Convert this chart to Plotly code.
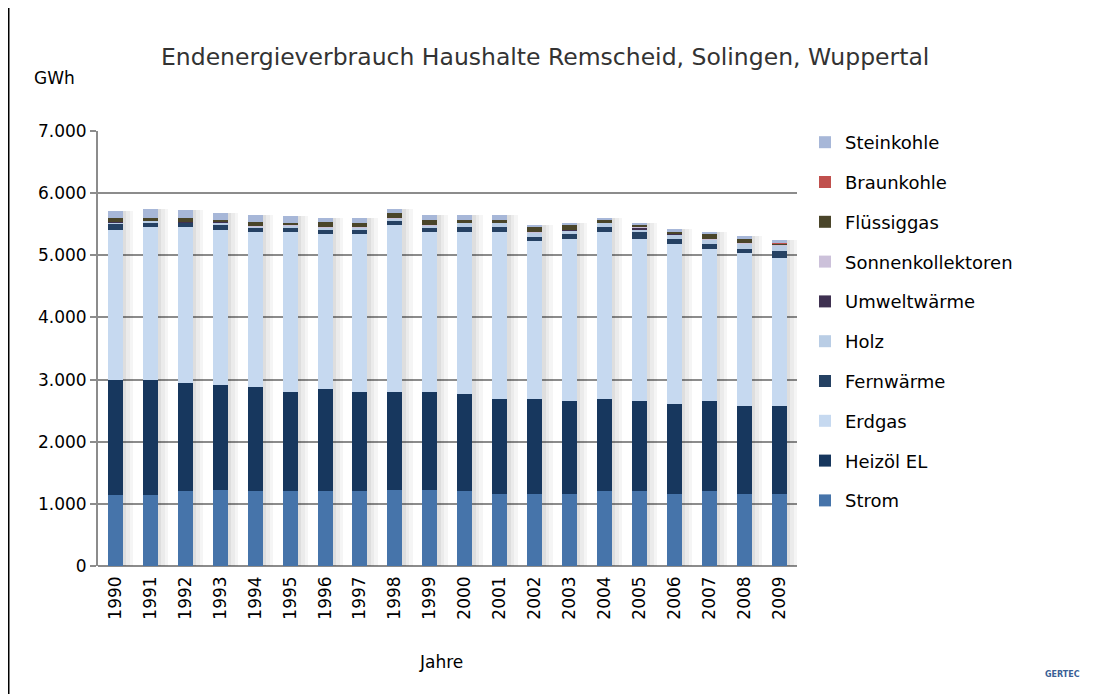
import plotly.graph_objects as go

years = [str(y) for y in range(1990, 2010)]

strom = [1150, 1150, 1200, 1230, 1200, 1200, 1200, 1200, 1230, 1230,
         1200, 1160, 1160, 1160, 1200, 1200, 1160, 1200, 1160, 1160]
heizoel = [1850, 1850, 1750, 1685, 1680, 1600, 1645, 1600, 1570, 1570,
           1570, 1530, 1530, 1490, 1490, 1450, 1455, 1450, 1420, 1420]
erdgas = [2410, 2450, 2500, 2495, 2490, 2570, 2495, 2535, 2680, 2570,
          2600, 2680, 2535, 2605, 2680, 2605, 2570, 2455, 2455, 2380]
fernwaerme = [105, 69, 74, 80, 80, 80, 74, 74, 74, 80,
              80, 80, 74, 80, 80, 113, 75, 76, 74, 113]
holz = [15, 37, 10, 37, 15, 32, 38, 38, 39, 32,
        74, 74, 71, 69, 74, 37, 81, 75, 76, 80]
umweltwaerme = [2, 2, 2, 2, 2, 2, 2, 2, 2, 2,
                3, 3, 3, 3, 3, 43, 4, 4, 4, 5]
sonnenkollektoren = [0, 0, 0, 0, 1, 1, 1, 1, 1, 2,
                     2, 2, 3, 3, 3, 4, 4, 5, 5, 6]
fluessiggas = [70, 39, 71, 44, 74, 42, 74, 74, 80, 74,
               32, 32, 80, 80, 32, 37, 32, 81, 75, 33]
braunkohle = [0, 0, 0, 0, 0, 0, 0, 0, 0, 0,
              0, 0, 0, 0, 0, 0, 0, 0, 0, 16]
steinkohle = [117, 150, 117, 107, 113, 113, 71, 71, 70, 81,
              81, 81, 37, 37, 39, 37, 37, 32, 37, 27]

series = [
    ("Strom", strom, "#4674AA"),
    ("Heizöl EL", heizoel, "#17375E"),
    ("Erdgas", erdgas, "#C6D9F0"),
    ("Fernwärme", fernwaerme, "#254163"),
    ("Holz", holz, "#B9CDE5"),
    ("Umweltwärme", umweltwaerme, "#3F3151"),
    ("Sonnenkollektoren", sonnenkollektoren, "#CCC1DA"),
    ("Flüssiggas", fluessiggas, "#4A452A"),
    ("Braunkohle", braunkohle, "#C0504D"),
    ("Steinkohle", steinkohle, "#A7B7D8"),
]

FONT = "DejaVu Sans, Liberation Sans, Arial, sans-serif"

totals = [sum(s[1][k] for s in series) for k in range(len(years))]

fig = go.Figure()

# soft drop shadow to the right of each stack (Excel style)
CAT_PX = 35.0
BAR_W = 0.43
shadow_strips = [("x2", 0.13), ("x3", 0.08), ("x4", 0.04)]
for j, (ax, op) in enumerate(shadow_strips):
    fig.add_trace(go.Bar(
        x=years, y=totals, xaxis=ax, yaxis="y",
        width=3.5 / CAT_PX, offset=BAR_W / 2 + j * 3.5 / CAT_PX,
        marker=dict(color=f"rgba(0,0,0,{op})", line=dict(width=0)),
        showlegend=False, hoverinfo="skip",
    ))

n = len(series)
for i, (name, vals, col) in enumerate(series):
    fig.add_trace(go.Bar(
        x=years, y=vals, name=name, legendgroup=f"g{i}",
        legendrank=(n - i) * 10,
        marker=dict(color=col, line=dict(width=0)),
    ))

# page has an 8px body margin: figure origin is at page (8, 8)
W, H = 1087, 686
L, R, T, B = 90, 298, 123, 128
pw, ph = W - L - R, H - T - B


def px(x):
    return (x - L) / pw


def py(y):
    return (H - B - y) / ph


hidden_x = dict(type="category", overlaying="x", matches="x", visible=False)

fig.update_layout(
    width=W, height=H,
    margin=dict(l=L, r=R, t=T, b=B, autoexpand=False),
    paper_bgcolor="white", plot_bgcolor="white",
    barmode="stack", bargap=0.57,
    separators=",.",
    font=dict(family=FONT, size=17, color="#000000"),
    showlegend=True,
    legend=dict(
        x=px(797), y=py(116), xanchor="left", yanchor="top",
        traceorder="grouped", tracegroupgap=13.4,
        font=dict(family=FONT, size=18, color="#000000"),
        itemwidth=30, bgcolor="rgba(0,0,0,0)", maxheight=600,
    ),
    xaxis=dict(
        type="category", tickangle=-90, showgrid=False,
        tickfont=dict(family=FONT, size=17, color="#000000"),
        ticks="", showline=False, zeroline=False, ticklabelstandoff=6,
    ),
    xaxis2=hidden_x, xaxis3=hidden_x, xaxis4=hidden_x,
    yaxis=dict(
        range=[0, 7000], dtick=1000, tickformat=",d",
        showgrid=True, gridcolor="#8C8C8C", gridwidth=2,
        ticks="outside", ticklen=6, tickcolor="#8C8C8C", tickwidth=2,
        showline=True, linecolor="#8C8C8C", linewidth=2,
        zeroline=True, zerolinecolor="#8C8C8C", zerolinewidth=2,
        tickfont=dict(family=FONT, size=17, color="#000000"),
    ),
    shapes=[
        dict(type="line", xref="paper", yref="paper",
             x0=px(0.75), x1=px(0.75), y0=py(0), y1=py(H),
             line=dict(color="#000000", width=1.5), layer="below"),
    ],
    annotations=[
        dict(text="Endenergieverbrauch Haushalte Remscheid, Solingen, Wuppertal",
             xref="paper", yref="paper", x=px(537), y=py(49),
             xanchor="center", yanchor="middle", showarrow=False,
             font=dict(family=FONT, size=23.5, color="#333333")),
        dict(text="GWh", xref="paper", yref="paper", x=px(24), y=py(70),
             xanchor="left", yanchor="middle", showarrow=False,
             font=dict(family=FONT, size=17, color="#000000")),
        dict(text="Jahre", xref="paper", yref="paper", x=px(433), y=py(654),
             xanchor="center", yanchor="middle", showarrow=False,
             font=dict(family=FONT, size=17, color="#000000")),
        dict(text="<b>GERTEC</b>", xref="paper", yref="paper", x=px(1054), y=py(666),
             xanchor="center", yanchor="middle", showarrow=False,
             font=dict(family=FONT, size=8, color="#3A5F95")),
    ],
)

fig.write_html("out.html")
